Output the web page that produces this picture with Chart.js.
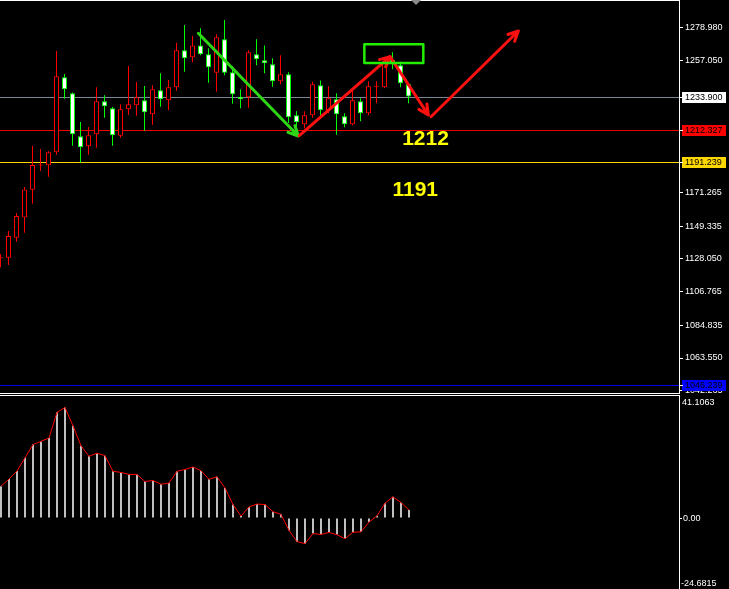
<!DOCTYPE html>
<html>
<head>
<meta charset="utf-8">
<script src="https://cdn.jsdelivr.net/npm/chart.js@4.4.0/dist/chart.umd.min.js"></script>
<style>
  html, body { margin: 0; padding: 0; background: #000; overflow: hidden; }
  #main { position: absolute; left: 0; top: 0; }
  #sub { position: absolute; left: 0; top: 395px; }
</style>
</head>
<body>
<canvas id="main" width="729" height="394"></canvas>
<canvas id="sub" width="729" height="194"></canvas>
<script>
'use strict';

// Candles (one per bar, oldest first)
const opens = [1128.5, 1128.9, 1141.9, 1155.0, 1173.2, 1189.0, 1189.1, 1197.6, 1246.4, 1236.0,
  1208.0, 1201.5, 1209.3, 1230.8, 1226.2, 1208.4, 1225.6, 1228.2, 1231.4, 1222.3,
  1237.9, 1231.4, 1239.9, 1264.0, 1259.4, 1267.2, 1261.4, 1249.4, 1271.2, 1249.7,
  1233.8, 1233.4, 1261.4, 1257.5, 1254.9, 1243.8, 1248.4, 1221.7, 1215.8, 1221.7,
  1241.2, 1224.9, 1232.1, 1221.0, 1215.8, 1230.8, 1223.0, 1239.9, 1239.9, 1257.7,
  1254.2, 1241.9];
const highs = [1131.3, 1146.3, 1158.0, 1174.9, 1201.8, 1199.7, 1198.2, 1263.5, 1248.5, 1236.5,
  1217.3, 1214.0, 1239.9, 1234.7, 1227.1, 1228.8, 1253.8, 1243.4, 1240.7, 1241.2,
  1249.0, 1244.6, 1268.9, 1280.5, 1273.3, 1278.3, 1265.3, 1274.4, 1283.7, 1253.8,
  1238.6, 1264.0, 1271.2, 1267.2, 1258.8, 1260.7, 1249.7, 1224.3, 1224.3, 1243.5,
  1244.4, 1240.5, 1236.0, 1223.0, 1237.9, 1232.7, 1243.8, 1243.8, 1259.6, 1262.7,
  1256.6, 1242.5];
const lows = [1122.6, 1124.1, 1139.3, 1145.2, 1164.1, 1185.4, 1181.7, 1196.0, 1232.5, 1201.8,
  1190.8, 1196.0, 1200.5, 1220.1, 1201.8, 1207.1, 1221.8, 1221.4, 1211.6, 1215.5,
  1227.3, 1224.9, 1237.7, 1250.1, 1256.2, 1260.7, 1242.9, 1237.0, 1247.7, 1229.2,
  1226.2, 1226.6, 1254.2, 1249.0, 1240.3, 1241.8, 1216.6, 1211.0, 1213.2, 1220.1,
  1221.4, 1223.0, 1209.0, 1213.8, 1215.1, 1217.7, 1221.7, 1229.5, 1239.4, 1251.6,
  1239.9, 1229.5];
const closes = [1129.2, 1143.0, 1156.1, 1173.4, 1189.3, 1189.6, 1197.6, 1247.1, 1238.6, 1209.3,
  1200.8, 1208.6, 1230.8, 1227.5, 1208.6, 1225.6, 1228.8, 1233.4, 1223.6, 1238.6,
  1232.1, 1239.9, 1264.0, 1258.8, 1267.2, 1261.4, 1252.9, 1272.5, 1249.4, 1235.3,
  1232.1, 1262.7, 1258.1, 1255.5, 1243.8, 1248.4, 1220.4, 1217.1, 1221.7, 1241.8,
  1224.9, 1232.7, 1222.3, 1215.8, 1231.4, 1223.0, 1240.5, 1240.5, 1255.5, 1255.1,
  1242.5, 1233.9];

// Oscillator in the lower window
const macd = [11.1, 13.6, 16.4, 21.0, 25.6, 26.7, 27.9, 36.8, 38.5, 32.1,
  25.2, 21.5, 22.6, 21.7, 16.3, 15.9, 15.2, 15.2, 12.7, 13.1,
  11.8, 12.2, 16.3, 16.9, 17.8, 16.5, 13.5, 14.4, 10.5, 4.7,
  0.7, 3.9, 4.9, 4.7, 2.2, 1.3, -4.3, -8.2, -8.9, -5.4,
  -5.7, -5.0, -5.8, -7.2, -4.9, -4.8, -1.4, 0.8, 5.2, 7.4,
  5.4, 2.8];

// Axis values
const priceTicks = [1278.980, 1257.050, 1171.265, 1149.335, 1128.050, 1106.765, 1084.835, 1063.550, 1042.265];
const priceMin = 1040.76;
const priceMax = 1296.11;
const oscMin = -24.6815;
const oscMax = 41.1063;

// Horizontal levels with their price-axis labels
const levels = [1233.900, 1212.327, 1191.239, 1046.239];
const levelColors = ['#778899', '#ee0000', '#ffd700', '#0000ee'];
const levelBoxColors = ['#ffffff', '#ff0000', '#ffd700', '#0000ff'];

// Drawn objects, as [bar index, price]
const greenArrow = [[24.73, 1275.07], [37.23, 1208.17]];
const redArrows = [
  [[37.35, 1208.37], [48.69, 1259.83]],
  [[48.69, 1259.83], [53.48, 1221.85]],
  [[53.81, 1220.74], [64.73, 1276.57]],
];
const boxCorners = [[45.48, 1267.9], [52.85, 1255.7]];
const noteTexts = ['1212', '1191'];
const notePoints = [[53.13, 1206.4], [51.84, 1172.8]];
const shiftIndex = 51.94;

const axisFamily = '"Liberation Sans", Arial, sans-serif';
const axisFont = '9px ' + axisFamily;
const candleColors = opens.map((o, i) => (closes[i] >= o ? '#ff0000' : '#00ff00'));

function arrow(ctx, x0, y0, x1, y1, head) {
  const ang = Math.atan2(y1 - y0, x1 - x0);
  ctx.beginPath();
  ctx.moveTo(x0, y0);
  ctx.lineTo(x1, y1);
  ctx.moveTo(x1 - head * Math.cos(ang - 0.45), y1 - head * Math.sin(ang - 0.45));
  ctx.lineTo(x1, y1);
  ctx.lineTo(x1 - head * Math.cos(ang + 0.45), y1 - head * Math.sin(ang + 0.45));
  ctx.stroke();
}

// keep the plot area flush with the window edges
function fitAxis(s) {
  s.width = 49;
  s.paddingTop = 0;
  s.paddingBottom = 0;
}

const mainDecor = {
  id: 'mainDecor',
  beforeDatasetsDraw(chart) {
    const { ctx, chartArea: a, scales: { y } } = chart;
    ctx.save();
    levels.forEach((v, i) => {
      const py = Math.round(y.getPixelForValue(v)) + 0.5;
      ctx.strokeStyle = levelColors[i];
      ctx.lineWidth = 1;
      ctx.beginPath();
      ctx.moveTo(a.left, py);
      ctx.lineTo(a.right, py);
      ctx.stroke();
    });
    ctx.restore();
  },
  afterDatasetsDraw(chart) {
    const { ctx, scales: { x, y } } = chart;
    const px = (p) => [x.getPixelForValue(p[0]), y.getPixelForValue(p[1])];
    ctx.save();
    ctx.lineCap = 'round';
    ctx.lineJoin = 'round';

    ctx.strokeStyle = '#2ed616';
    ctx.lineWidth = 3;
    let s = px(greenArrow[0]);
    let e = px(greenArrow[1]);
    arrow(ctx, s[0], s[1], e[0], e[1], 11);

    ctx.strokeStyle = '#ff1010';
    redArrows.forEach((seg) => {
      s = px(seg[0]);
      e = px(seg[1]);
      arrow(ctx, s[0], s[1], e[0], e[1], 11);
    });

    ctx.strokeStyle = '#22ee00';
    ctx.lineWidth = 2.5;
    s = px(boxCorners[0]);
    e = px(boxCorners[1]);
    ctx.strokeRect(s[0], s[1], e[0] - s[0], e[1] - s[1]);

    ctx.fillStyle = '#ffff00';
    ctx.font = 'bold 21px "Liberation Sans", Arial, sans-serif';
    ctx.textAlign = 'center';
    ctx.textBaseline = 'middle';
    noteTexts.forEach((t, i) => {
      const p = px(notePoints[i]);
      ctx.fillText(t, p[0], p[1]);
    });
    ctx.restore();
  },
  afterDraw(chart) {
    const { ctx, chartArea: a, scales: { x, y } } = chart;
    ctx.save();
    // window frame
    ctx.strokeStyle = '#ffffff';
    ctx.lineWidth = 1;
    ctx.beginPath();
    ctx.moveTo(0, 0.5);
    ctx.lineTo(a.right, 0.5);
    ctx.moveTo(a.right - 0.5, 0);
    ctx.lineTo(a.right - 0.5, chart.height);
    ctx.moveTo(0, chart.height - 0.5);
    ctx.lineTo(a.right, chart.height - 0.5);
    ctx.stroke();

    // level labels on the price axis
    ctx.font = axisFont;
    ctx.textBaseline = 'middle';
    ctx.textAlign = 'left';
    levels.forEach((v, i) => {
      const py = Math.round(y.getPixelForValue(v));
      ctx.fillStyle = levelBoxColors[i];
      ctx.fillRect(a.right + 2, py - 5, 44, 11);
      ctx.strokeStyle = '#ffffff';
      ctx.beginPath();
      ctx.moveTo(a.right, py + 0.5);
      ctx.lineTo(a.right + 3, py + 0.5);
      ctx.stroke();
      ctx.fillStyle = '#000000';
      ctx.fillText(v.toFixed(3), a.right + 5, py + 1);
    });

    // chart shift marker
    const sx = x.getPixelForValue(shiftIndex);
    ctx.fillStyle = '#8a8a8a';
    ctx.beginPath();
    ctx.moveTo(sx - 5, 0);
    ctx.lineTo(sx + 5, 0);
    ctx.lineTo(sx, 5);
    ctx.closePath();
    ctx.fill();
    ctx.restore();
  },
};

// eslint-disable-next-line no-new,no-undef
const mainChart = new Chart(document.getElementById('main'), {
  type: 'bar',
  data: {
    datasets: [
      {
        label: 'body',
        data: opens.map((o, i) => ({ x: i, y: [o, closes[i]] })),
        backgroundColor: opens.map((o, i) => (closes[i] >= o ? '#000000' : '#ffffff')),
        borderColor: candleColors,
        borderWidth: 1,
        borderSkipped: false,
        barThickness: 5,
        maxBarThickness: 5,
        inflateAmount: 0,
        grouped: false,
        order: 1,
      },
      {
        label: 'wick',
        data: lows.map((l, i) => ({ x: i, y: [l, highs[i]] })),
        backgroundColor: candleColors,
        borderWidth: 0,
        barThickness: 1,
        maxBarThickness: 1,
        inflateAmount: 0,
        grouped: false,
        order: 2,
      },
    ],
  },
  options: {
    responsive: false,
    animation: false,
    layout: { padding: { top: 1, bottom: 1, left: 0, right: 0 } },
    plugins: { legend: { display: false }, tooltip: { enabled: false } },
    scales: {
      x: { type: 'linear', display: false, offset: false, min: -0.0625, max: 84.9375 },
      y: {
        position: 'right',
        min: priceMin,
        max: priceMax,
        afterFit: fitAxis,
        afterBuildTicks: (s) => { s.ticks = priceTicks.map((v) => ({ value: v })); },
        border: { display: false },
        grid: { display: true, drawOnChartArea: false, tickLength: 3, tickColor: '#ffffff' },
        ticks: {
          color: '#ffffff',
          font: { family: axisFamily, size: 9 },
          padding: 2,
          autoSkip: false,
          callback: (v) => Number(v).toFixed(3),
        },
      },
    },
  },
  plugins: [mainDecor],
});

const subDecor = {
  id: 'subDecor',
  afterDraw(chart) {
    const { ctx, chartArea: a } = chart;
    ctx.save();
    ctx.strokeStyle = '#ffffff';
    ctx.lineWidth = 1;
    ctx.beginPath();
    ctx.moveTo(0, 0.5);
    ctx.lineTo(a.right, 0.5);
    ctx.moveTo(a.right - 0.5, 0);
    ctx.lineTo(a.right - 0.5, chart.height);
    ctx.stroke();
    ctx.fillStyle = '#ffffff';
    ctx.font = axisFont;
    ctx.textAlign = 'left';
    ctx.textBaseline = 'middle';
    ctx.fillText(oscMax.toFixed(4), a.right + 2, 8);
    ctx.fillText(oscMin.toFixed(4), a.right + 1, chart.height - 5);
    ctx.restore();
  },
};

// eslint-disable-next-line no-new,no-undef
const subChart = new Chart(document.getElementById('sub'), {
  type: 'bar',
  data: {
    datasets: [
      {
        type: 'line',
        label: 'signal',
        data: macd.map((v, i) => ({ x: i, y: v })),
        borderColor: '#ff0000',
        borderWidth: 1,
        pointRadius: 0,
        tension: 0,
        order: 1,
      },
      {
        label: 'MACD',
        data: macd.map((v, i) => ({ x: i, y: v })),
        backgroundColor: '#c0c0c0',
        borderWidth: 0,
        barThickness: 2,
        maxBarThickness: 2,
        inflateAmount: 0,
        grouped: false,
        order: 2,
      },
    ],
  },
  options: {
    responsive: false,
    animation: false,
    layout: { padding: { top: 5, bottom: 0, left: 0, right: 0 } },
    plugins: { legend: { display: false }, tooltip: { enabled: false } },
    scales: {
      x: { type: 'linear', display: false, offset: false, min: -0.125, max: 84.875 },
      y: {
        position: 'right',
        min: oscMin,
        max: oscMax,
        afterFit: fitAxis,
        afterBuildTicks: (s) => { s.ticks = [{ value: 0 }]; },
        border: { display: false },
        grid: { display: true, drawOnChartArea: false, tickLength: 2, tickColor: '#ffffff' },
        ticks: {
          color: '#ffffff',
          font: { family: axisFamily, size: 9 },
          padding: 1,
          autoSkip: false,
          callback: (v) => Number(v).toFixed(2),
        },
      },
    },
  },
  plugins: [subDecor],
});
</script>
</body>
</html>
